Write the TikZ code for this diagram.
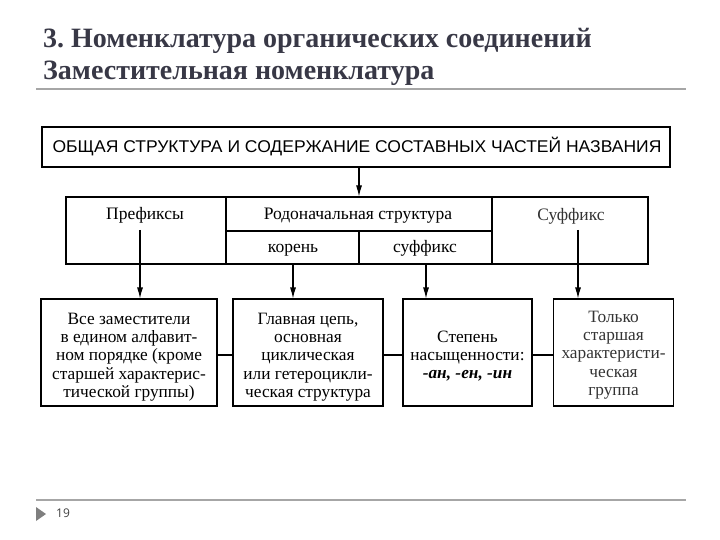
\documentclass[tikz,border=0pt]{standalone}
\usepackage{fontspec}
\setmainfont{Liberation Serif}
\newfontfamily\bannerfont{Liberation Sans}
\newfontfamily\pagefont{Open Sans}
\usetikzlibrary{arrows.meta}
\definecolor{titlegray}{HTML}{383846}
\definecolor{rulegray}{HTML}{A6A6A6}
\definecolor{trigray}{HTML}{7F7F7F}
\frenchspacing
\tikzset{
  box/.style={draw=black, line width=1.1pt, inner sep=0pt},
  arr/.style={draw=black, line width=1.1pt, -{Latex[length=11pt,width=6pt]}},
  conn/.style={draw=black, line width=1.1pt},
  midtext/.style={inner sep=0pt, anchor=base, font=\fontsize{17.5}{18}\selectfont},
  lowtext/.style={inner sep=0pt, align=center, font=\fontsize{17.3}{18.3}\selectfont},
  titletext/.style={anchor=base west, inner sep=0pt, text=titlegray, font=\bfseries\fontsize{28}{28}\selectfont},
}
\begin{document}
\begin{tikzpicture}[x=1pt,y=-1pt]
\useasboundingbox (0,0) rectangle (720,540);
% title
\node[titletext] (t1) at (43,48) {3. Номенклатура органических соединений};
\node[titletext] (t2) at (43,80) {Заместительная номенклатура};
\draw[rulegray, line width=2pt] (36,89) -- (686,89);
% top box
\node[box, minimum width=628pt, minimum height=40pt] (top) at (356,147) {};
\node[inner sep=0pt, anchor=base, font=\bannerfont\fontsize{17}{17}\selectfont] (toptext) at (357,153) {\scalebox{1.03}[1]{ОБЩАЯ СТРУКТУРА И СОДЕРЖАНИЕ СОСТАВНЫХ ЧАСТЕЙ НАЗВАНИЯ}};
% middle row
\node[box, minimum width=160pt, minimum height=67pt] (pref) at (146,230.5) {};
\node[box, minimum width=266pt, minimum height=34pt] (rod) at (359,214) {};
\node[box, minimum width=133pt, minimum height=33pt] (kor) at (292.5,247.5) {};
\node[box, minimum width=133pt, minimum height=33pt] (suf) at (425.5,247.5) {};
\node[box, minimum width=156pt, minimum height=67pt] (sfx) at (570,230.5) {};
\node[midtext] (preft) at (145,219) {Префиксы};
\node[midtext] (rodt) at (358,220) {Родоначальная структура};
\node[midtext] (kort) at (293,252) {корень};
\node[midtext] (suft) at (425,252) {суффикс};
\node[midtext, font=\fontsize{17.5}{18}\selectfont\color{black!80}] (sfxt) at (571,221) {Суффикс};
% bottom row
\node[box, minimum width=176pt, minimum height=107pt] (b1) at (129,352.5) {};
\node[box, minimum width=150pt, minimum height=107pt] (b2) at (308,352.5) {};
\node[box, minimum width=129pt, minimum height=107pt] (b3) at (467.5,352.5) {};
\node[box, minimum width=120pt, minimum height=107pt] (b4) at (613.5,352.5) {};
\node[lowtext] (b1t) at (129,357) {Все заместители\\в едином алфавит-\\ном порядке (кроме\\старшей характерис-\\тической группы)};
\node[lowtext] (b2t) at (308,357) {Главная цепь,\\основная\\циклическая\\или гетероцикли-\\ческая структура};
\node[lowtext] (b3t) at (467.5,356) {Степень\\насыщенности:\\\textbf{\textit{-ан, -ен, -ин}}};
\node[lowtext, text=black!80] (b4t) at (613.5,355) {Только\\старшая\\характеристи-\\ческая\\группа};
% connectors
\draw[arr] (top.south -| rod.north) -- (rod.north);
\coordinate (s1) at (140,230);
\coordinate (s4) at (578,230);
\coordinate (s2) at (293,264);
\coordinate (s3) at (426,264);
\draw[arr] (s1) -- (s1 |- b1.north);
\draw[arr] (s2) -- (s2 |- b2.north);
\draw[arr] (s3) -- (s3 |- b3.north);
\draw[arr] (s4) -- (s4 |- b4.north);
\draw[conn] (b1.east |- 0,355) -- (b2.west |- 0,355);
\draw[conn] (b2.east |- 0,355) -- (b3.west |- 0,355);
\draw[conn] (b3.east |- 0,355) -- (b4.west |- 0,355);
% footer
\draw[rulegray, line width=2pt] (36,500) -- (686,500);
\fill[trigray] (36,507) -- (46,514) -- (36,521) -- cycle;
\node[anchor=west, inner sep=0pt, text=black!75, font=\pagefont\fontsize{12}{12}\selectfont] (pg) at (56,513) {19};
\end{tikzpicture}
\end{document}
